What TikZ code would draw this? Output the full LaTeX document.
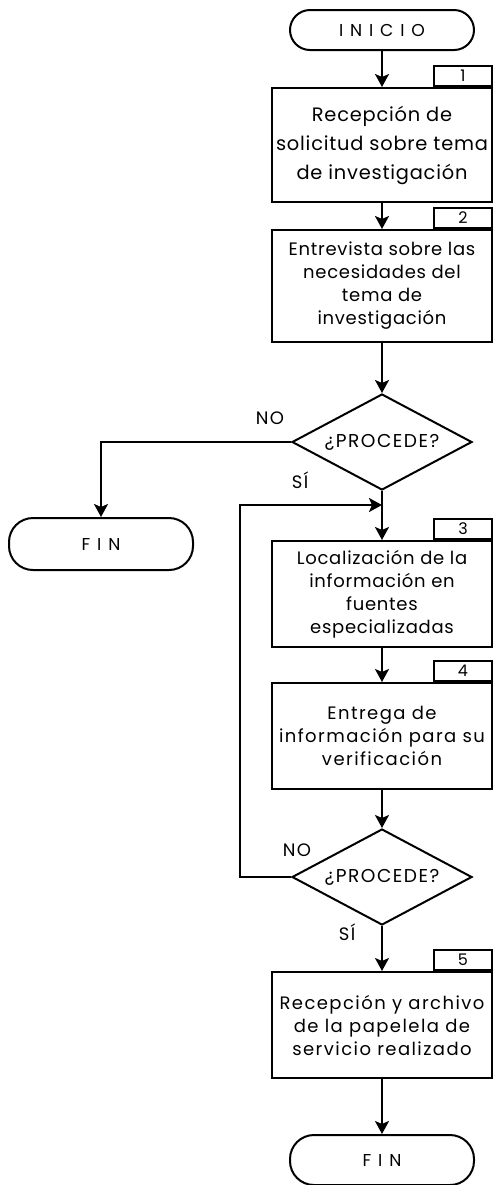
\documentclass[tikz,border=0pt]{standalone}
\usepackage{fontspec}
\setmainfont{Poppins}
\newfontfamily\spacedfont[LetterSpace=4]{Poppins}
\newfontfamily\loosefont[LetterSpace=8]{Poppins}
\newfontfamily\widefont[LetterSpace=40]{Poppins}
\usetikzlibrary{arrows.meta,positioning,shapes.geometric,calc}

\begin{document}
\begin{tikzpicture}[x=0.5pt, y=-0.5pt,
        box/.style={draw, line width=1pt, align=center, font=\spacedfont\fontsize{9}{11.5}\selectfont, minimum width=110pt, minimum height=53pt, inner sep=2pt},
        tag/.style={draw, line width=1pt, font=\fontsize{8}{9}\selectfont, minimum width=29pt, minimum height=10pt, inner sep=0pt, anchor=south east},
        term/.style={draw, line width=1pt, rounded corners=10pt, minimum width=92pt, minimum height=20pt, font=\widefont\fontsize{8.6}{10}\selectfont},
        dec/.style={draw, diamond, aspect=1.87, line width=1pt, minimum width=90pt, minimum height=48pt, inner sep=0pt, font=\loosefont\fontsize{9.3}{10}\selectfont},
        lbl/.style={font=\loosefont\fontsize{9}{10}\selectfont},
        arr/.style={-{Stealth[length=6.5pt,width=7pt,inset=1.5pt]}, line width=1pt}]

        \useasboundingbox (0,0) rectangle (494,1185);

        \node[term] (inicio) at (382,30) {INICIO};

        \node[box, minimum height=57pt, font=\spacedfont\fontsize{9.7}{14.5}\selectfont] (recep) at (382,145) {Recepción de\\solicitud sobre tema\\de investigación};
        \node[tag] (n1) at (recep.north east) {1};

        \node[box, minimum height=56pt] (entrev) at (382,286) {Entrevista sobre las\\necesidades del\\tema de\\investigación};
        \node[tag] (n2) at (entrev.north east) {2};

        \node[dec] (proc1) at (382,442) {¿PROCEDE?};
        \node[lbl] (no1) at (270,418) {NO};
        \node[lbl] (si1) at (300,480) {SÍ};

        \node[term, minimum height=26pt, rounded corners=12pt] (fin1) at (101,544) {FIN};

        \coordinate (join) at (382,505);

        \node[box] (local) at (382,594) {Localización de la\\información en\\fuentes\\especializadas};
        \node[tag] (n3) at (local.north east) {3};

        \node[box, font=\loosefont\fontsize{9}{11.5}\selectfont] (entrega) at (382,736) {Entrega de\\información para su\\verificación};
        \node[tag] (n4) at (entrega.north east) {4};

        \node[dec] (proc2) at (382,877) {¿PROCEDE?};
        \node[lbl] (no2) at (297,850) {NO};
        \node[lbl] (si2) at (347,932) {SÍ};

        \node[box, font=\loosefont\fontsize{9}{11.5}\selectfont] (archivo) at (382,1025) {Recepción y archivo\\de la papelela de\\servicio realizado};
        \node[tag] (n5) at (archivo.north east) {5};

        \node[term, minimum height=25pt, rounded corners=12pt] (fin2) at (382,1160) {FIN};

        \draw[arr] (inicio) -- (recep);
        \draw[arr] (recep) -- (entrev);
        \draw[arr] (entrev) -- (proc1);
        \draw[arr] (proc1.west) -| (fin1.north);
        \draw[arr] (proc1.south) -- (local.north);
        \draw[arr] (proc2.west) -- ++(-51,0) |- (join);
        \draw[arr] (local) -- (entrega);
        \draw[arr] (entrega) -- (proc2);
        \draw[arr] (proc2) -- (archivo);
        \draw[arr] (archivo) -- (fin2);
      \end{tikzpicture}
\end{document}
